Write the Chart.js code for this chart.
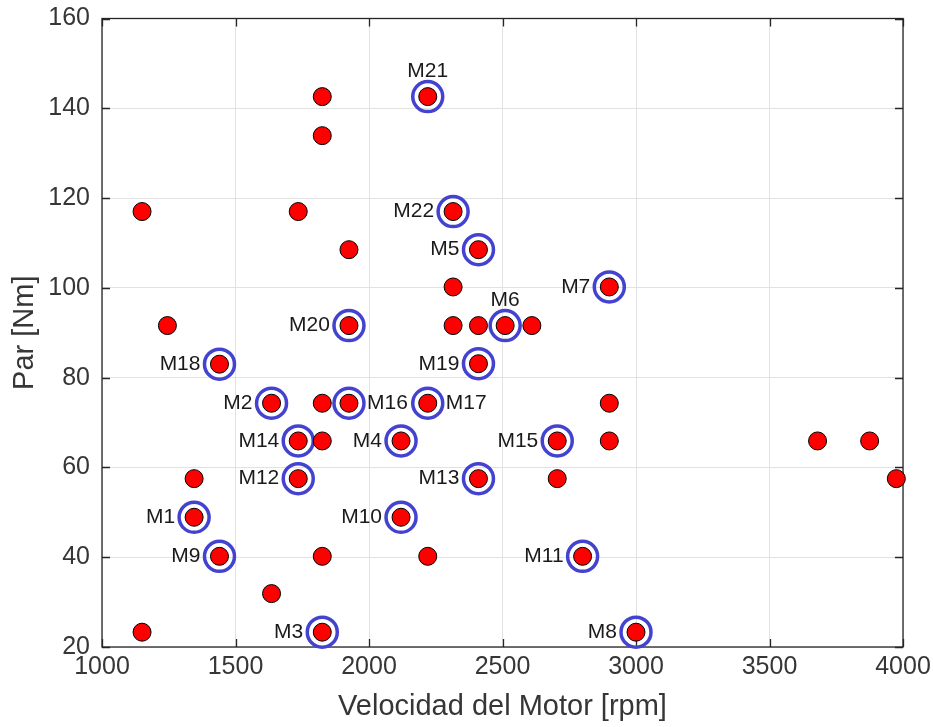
<!DOCTYPE html>
<html>
<head>
<meta charset="utf-8">
<script src="https://cdn.jsdelivr.net/npm/chart.js@4.4.1/dist/chart.umd.min.js"></script>
<style>
  html, body { margin: 0; padding: 0; background: #ffffff; }
  #wrap { width: 933px; height: 727px; position: relative; }
</style>
</head>
<body>
<div id="wrap"><canvas id="chart"></canvas></div>
<script>
// Operating points (speed in rpm, torque in Nm) without a motor tag
const pointSpeeds  = [1150, 1735, 1825, 1825, 1925, 2315, 2315, 2410, 2610, 1245, 1825, 2900, 1825, 2900, 3680, 3875, 1345, 2705, 3975, 1825, 2220, 1635, 1150];
const pointTorques = [117, 117, 142.6, 133.9, 108.5, 100.2, 91.6, 91.6, 91.6, 91.6, 74.3, 74.3, 65.9, 65.9, 65.9, 65.9, 57.5, 57.5, 57.5, 40.2, 40.2, 31.9, 23.3];

// Tagged motors
const motorNames   = ['M1', 'M2', 'M3', 'M4', 'M5', 'M6', 'M7', 'M8', 'M9', 'M10', 'M11', 'M12', 'M13', 'M14', 'M15', 'M16', 'M17', 'M18', 'M19', 'M20', 'M21', 'M22'];
const motorSpeeds  = [1345, 1635, 1825, 2120, 2410, 2510, 2900, 3000, 1440, 2120, 2800, 1735, 2410, 1735, 2705, 1925, 2220, 1440, 2410, 1925, 2220, 2315];
const motorTorques = [48.9, 74.3, 23.3, 65.9, 108.5, 91.6, 100.2, 23.3, 40.2, 48.9, 40.2, 57.5, 57.5, 65.9, 65.9, 74.3, 74.3, 83.0, 83.1, 91.6, 142.6, 117];

// Axis ticks
const xTicks = [1000, 1500, 2000, 2500, 3000, 3500, 4000];
const yTicks = [20, 40, 60, 80, 100, 120, 140, 160];

const allPoints = pointSpeeds.map((s, i) => ({ x: s, y: pointTorques[i] }))
  .concat(motorSpeeds.map((s, i) => ({ x: s, y: motorTorques[i] })));
const motorPoints = motorSpeeds.map((s, i) => ({ x: s, y: motorTorques[i], name: motorNames[i] }));

const AXIS_COLOR = '#262626';
const TEXT_COLOR = '#363636';
const FONT = '"Liberation Sans", Arial, sans-serif';

// Box around the plot area with inward tick marks on every side
const boxPlugin = {
  id: 'box',
  beforeDatasetsDraw(chart) {
    const { ctx, chartArea: a, scales: { x, y } } = chart;
    const len = 8;
    ctx.save();
    ctx.strokeStyle = AXIS_COLOR;
    ctx.lineWidth = 1.3;
    ctx.beginPath();
    xTicks.forEach(v => {
      const px = Math.round(x.getPixelForValue(v)) + 0.5;
      ctx.moveTo(px, a.bottom); ctx.lineTo(px, a.bottom - len);
      ctx.moveTo(px, a.top); ctx.lineTo(px, a.top + len);
    });
    yTicks.forEach(v => {
      const py = Math.round(y.getPixelForValue(v)) + 0.5;
      ctx.moveTo(a.left, py); ctx.lineTo(a.left + len, py);
      ctx.moveTo(a.right, py); ctx.lineTo(a.right - len, py);
    });
    ctx.stroke();
    ctx.strokeRect(a.left, a.top, a.right - a.left, a.bottom - a.top);
    ctx.restore();
  }
};

// Motor tags next to their ringed points
const labelPlacement = { M6: 'above', M21: 'above', M16: 'right', M17: 'right' };
const tagPlugin = {
  id: 'tags',
  afterDatasetsDraw(chart) {
    const { ctx, scales: { x, y } } = chart;
    ctx.save();
    ctx.font = '21px ' + FONT;
    ctx.fillStyle = '#1a1a1a';
    motorPoints.forEach(p => {
      const px = x.getPixelForValue(p.x);
      const py = y.getPixelForValue(p.y);
      const side = labelPlacement[p.name] || 'left';
      if (side === 'above') {
        ctx.textAlign = 'center'; ctx.textBaseline = 'alphabetic';
        ctx.fillText(p.name, px, py - 20);
      } else if (side === 'right') {
        ctx.textAlign = 'left'; ctx.textBaseline = 'middle';
        ctx.fillText(p.name, px + 18, py);
      } else {
        ctx.textAlign = 'right'; ctx.textBaseline = 'middle';
        ctx.fillText(p.name, px - 19, py);
      }
    });
    ctx.restore();
  }
};

new Chart(document.getElementById('chart'), {
  type: 'scatter',
  data: {
    datasets: [
      {
        label: 'Motores',
        data: motorPoints,
        pointStyle: 'circle',
        pointRadius: 15,
        pointHoverRadius: 15,
        pointBorderWidth: 3.5,
        pointBorderColor: '#4343cf',
        pointBackgroundColor: 'rgba(0,0,0,0)',
        clip: false,
        order: 2
      },
      {
        label: 'Puntos',
        data: allPoints,
        pointStyle: 'circle',
        pointRadius: 9,
        pointHoverRadius: 9,
        pointBorderWidth: 1,
        pointBorderColor: '#000000',
        pointBackgroundColor: '#ff0000',
        clip: false,
        order: 1
      }
    ]
  },
  options: {
    responsive: true,
    maintainAspectRatio: false,
    animation: false,
    devicePixelRatio: 1,
    layout: { padding: { left: 0, right: 30, top: 17, bottom: 0 } },
    plugins: { legend: { display: false }, tooltip: { enabled: false } },
    scales: {
      x: {
        type: 'linear',
        min: 1000, max: 4000,
        afterBuildTicks: s => { s.ticks = xTicks.map(v => ({ value: v })); },
        afterFit: s => { s.height = 80; s.paddingLeft = 0; s.paddingRight = 0; },
        grid: { color: '#e2e2e2', lineWidth: 1, drawTicks: false },
        border: { display: false },
        ticks: { padding: 5, color: TEXT_COLOR, font: { family: FONT, size: 25 }, maxRotation: 0, autoSkip: false,
                 callback: v => String(v) },
        title: { display: true, text: 'Velocidad del Motor [rpm]', color: TEXT_COLOR, font: { family: FONT, size: 29 }, padding: { top: 0, bottom: 3 } }
      },
      y: {
        type: 'linear',
        min: 20, max: 160,
        afterBuildTicks: s => { s.ticks = yTicks.map(v => ({ value: v })); },
        afterFit: s => { s.width = 102; s.paddingTop = 0; s.paddingBottom = 0; },
        grid: { color: '#e2e2e2', lineWidth: 1, drawTicks: false },
        border: { display: false },
        ticks: { padding: 12, color: TEXT_COLOR, font: { family: FONT, size: 25 }, autoSkip: false,
                 callback: v => String(v) },
        title: { display: true, text: 'Par [Nm]', color: TEXT_COLOR, font: { family: FONT, size: 29 }, padding: { top: 8, bottom: 0 } }
      }
    }
  },
  plugins: [boxPlugin, tagPlugin]
});
</script>
</body>
</html>
